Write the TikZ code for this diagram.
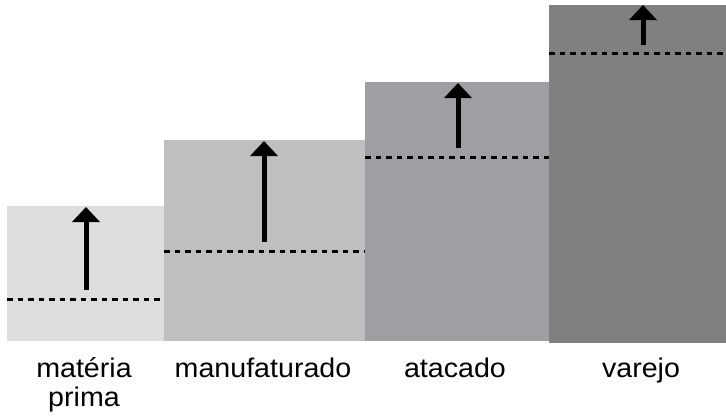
\documentclass[tikz,border=0pt]{standalone}
\usepackage{fontspec}
\setmainfont{Liberation Sans}
\usetikzlibrary{arrows.meta}

\definecolor{barone}{RGB}{220,221,223}
\definecolor{bartwo}{RGB}{190,191,193}
\definecolor{barthree}{RGB}{158,159,162}
\definecolor{barfour}{RGB}{128,128,131}

\begin{document}
\begin{tikzpicture}[x=1pt, y=-1pt]
          \useasboundingbox (0, 0) rectangle (726, 416);

          % Bars
          \fill [barone] (7, 206) rectangle (164, 341);
          \fill [bartwo] (164, 140) rectangle (365, 341);
          \fill [barthree] (365, 82) rectangle (549, 341);
          \fill [barfour] (549, 5) rectangle (726, 343);

          % Levels
          \draw [line width=3pt, dash pattern=on 5.5pt off 5pt] (7, 299) -- (164, 299);
          \draw [line width=3pt, dash pattern=on 5.5pt off 5pt] (164, 251) -- (365, 251);
          \draw [line width=3pt, dash pattern=on 5.5pt off 5pt] (365, 157) -- (549, 157);
          \draw [line width=3pt, dash pattern=on 5.5pt off 5pt] (549, 53) -- (726, 53);

          % Arrows
          \coordinate (mp-low) at (86, 290);
          \coordinate (mp-high) at (86, 207);
          \coordinate (mf-low) at (264, 242);
          \coordinate (mf-high) at (264, 141);
          \coordinate (at-low) at (458, 148);
          \coordinate (at-high) at (458, 83);
          \coordinate (vr-low) at (643, 45);
          \coordinate (vr-high) at (643, 5);
          \draw [line width=5pt, -{Triangle[width=27pt, length=15pt]}] (mp-low) -- (mp-high);
          \draw [line width=5pt, -{Triangle[width=27pt, length=15pt]}] (mf-low) -- (mf-high);
          \draw [line width=5pt, -{Triangle[width=27pt, length=15pt]}] (at-low) -- (at-high);
          \draw [line width=5pt, -{Triangle[width=27pt, length=15pt]}] (vr-low) -- (vr-high);

          % Labels
          \node [anchor=base, inner sep=0, xscale=1.06, font=\fontsize{27}{31}\selectfont] (materia) at (84, 377) {matéria};
          \node [anchor=base, inner sep=0, xscale=1.06, font=\fontsize{27}{31}\selectfont] (prima) at (84, 406) {prima};
          \node [anchor=base, inner sep=0, xscale=1.06, font=\fontsize{27}{31}\selectfont] (manuf) at (263, 377) {manufaturado};
          \node [anchor=base, inner sep=0, xscale=1.06, font=\fontsize{27}{31}\selectfont] (atacado) at (455, 377) {atacado};
          \node [anchor=base, inner sep=0, xscale=1.06, font=\fontsize{27}{31}\selectfont] (varejo) at (641, 377) {varejo};
        \end{tikzpicture}
\end{document}
